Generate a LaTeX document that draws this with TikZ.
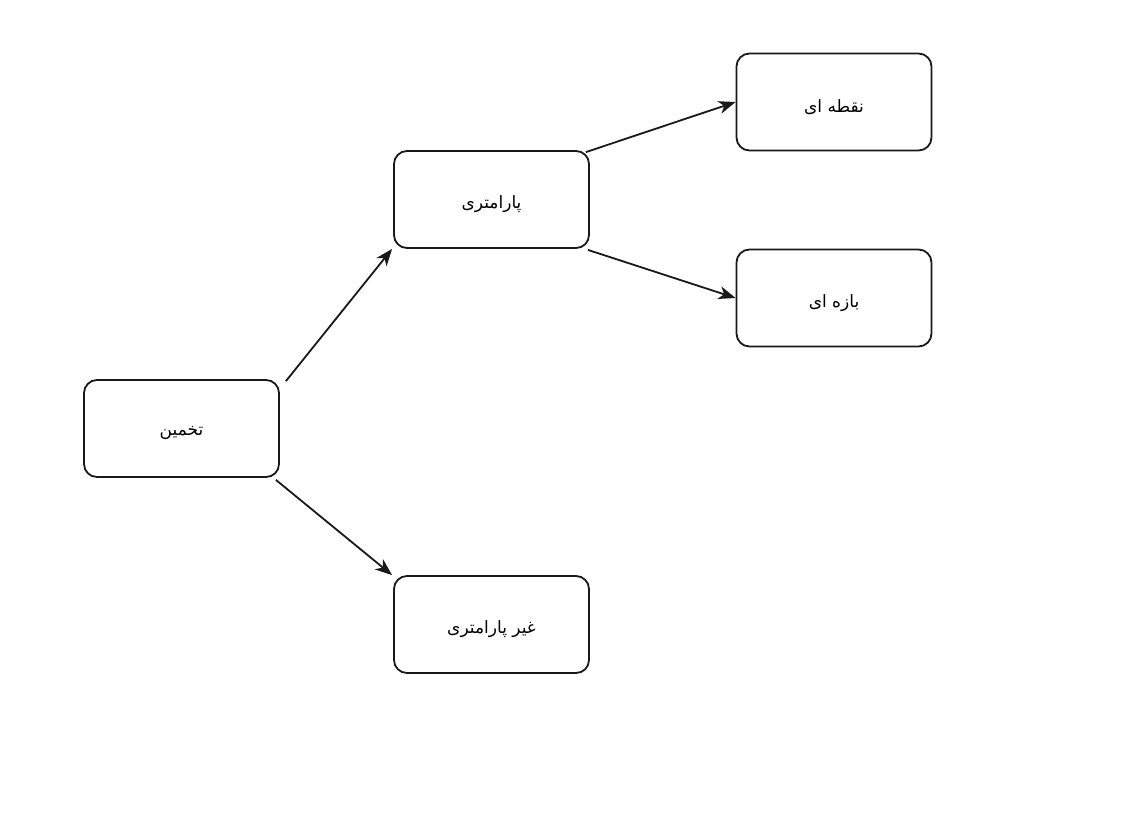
\documentclass[tikz,border=0pt]{standalone}
\usepackage{fontspec}
\newfontfamily\arabicfont[Script=Arabic]{DejaVu Sans}
\TeXXeTstate=1
\usetikzlibrary{arrows.meta}
\newcommand{\rtl}[1]{\raisebox{-5pt}[\height][\depth]{\beginR #1\endR}}
\begin{document}
\begin{tikzpicture}[x=1pt,y=-1pt,
  box/.style={draw=black!90, line width=1.8pt, rounded corners=13pt,
    minimum width=195pt, minimum height=97pt, inner sep=0pt,
    font=\arabicfont\fontsize{17pt}{19pt}\selectfont},
  link/.style={draw=black!90, line width=1.8pt, -{Stealth[length=17pt,width=13pt,inset=5pt]}}]
  \useasboundingbox (0,0) rectangle (1138,812);
  \fill[white] (0,0) rectangle (1138,812);

  \node[box] (est)  at (181.5,428.5) {\rtl{تخمین}};
  \node[box] (par)  at (491.5,199.5) {\rtl{پارامتری}};
  \node[box] (npar) at (491.5,624.5) {\rtl{غیر پارامتری}};
  \node[box] (pt)   at (834,102)     {\rtl{نقطه ای}};
  \node[box] (iv)   at (834,298)     {\rtl{بازه ای}};

  \draw[link] ([xshift=6pt,yshift=-2pt]est.north east) -- ([xshift=-1pt]par.south west);
  \draw[link] ([xshift=-4pt,yshift=-2pt]est.south east) -- ([xshift=-1pt]npar.north west);
  \draw[link] ([xshift=-4pt,yshift=-2pt]par.north east) -- (pt.west);
  \draw[link] ([xshift=-2pt,yshift=-1pt]par.south east) -- (iv.west);
\end{tikzpicture}
\end{document}
